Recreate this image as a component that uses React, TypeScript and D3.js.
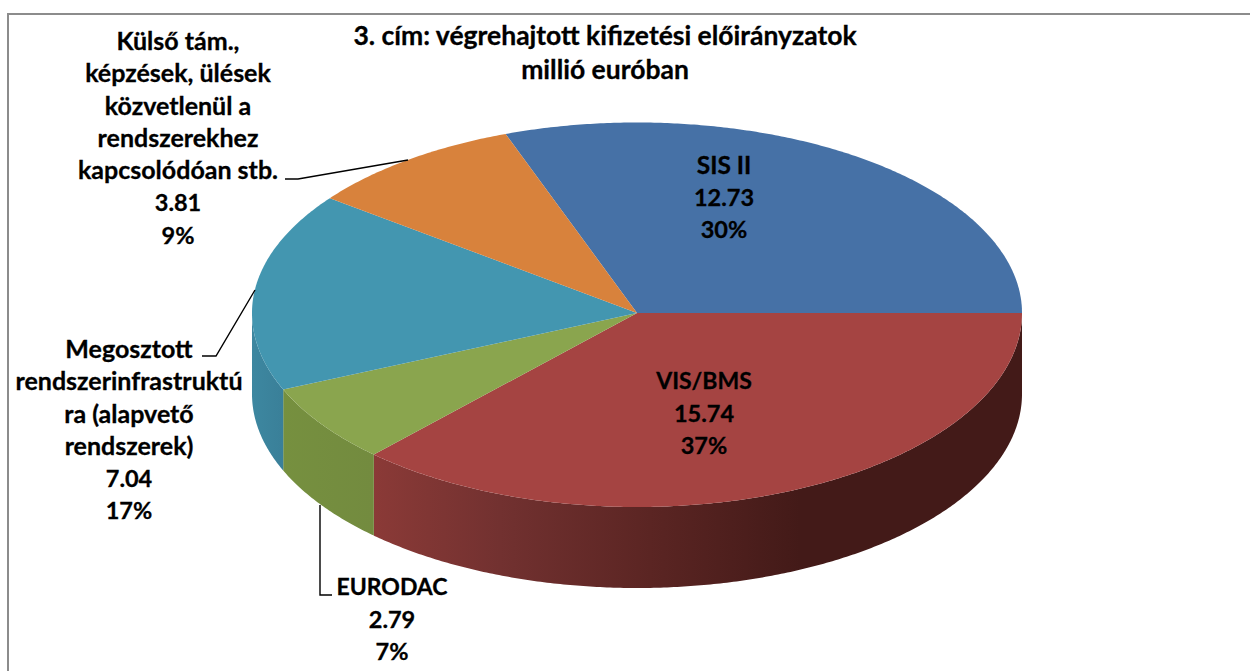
import React from 'react'
import * as d3 from 'd3'

const width = 1250
const height = 671

const titleLines = ['3. cím: végrehajtott kifizetési előirányzatok', 'millió euróban']
const categories = [
  ['SIS II'],
  ['VIS/BMS'],
  ['EURODAC'],
  ['Megosztott', 'rendszerinfrastruktú', 'ra (alapvető', 'rendszerek)'],
  ['Külső tám.,', 'képzések, ülések', 'közvetlenül a', 'rendszerekhez', 'kapcsolódóan stb.'],
]
const values = [12.73, 15.74, 2.79, 7.04, 3.81]
const valueLabels = ['12.73', '15.74', '2.79', '7.04', '3.81']
const percentLabels = ['30%', '37%', '7%', '17%', '9%']
const topColors = ['#4671a6', '#a54442', '#8aa54e', '#4396b0', '#d8823c']

// label placement: centre x and y of the first line, size of the name lines
const labelPos = [
  { x: 724, y: 165, size: 24.5 },
  { x: 704, y: 381, size: 23 },
  { x: 392, y: 587, size: 23 },
  { x: 129, y: 349, size: 25 },
  { x: 178, y: 41, size: 25 },
]
const leaders = [
  null,
  null,
  [[320, 505], [320, 595], [332, 595]],
  [[202, 356], [216, 356], [255, 290]],
  [[285, 179], [298, 179], [408, 160]],
]

const cx = 637
const cy = 313
const rx = 385
const ryBack = 190.5
const ryFront = 194
const depth = 81
const lineStep = 32.4

const rad = (d: number) => (d * Math.PI) / 180

// the original has a slight perspective, angles get squeezed a bit on the far side
const view = (a: number) => a - rad(1.7) * (1 - Math.cos(a - rad(90))) / 2

const rimX = (a: number) => cx + rx * Math.sin(a)
const rimY = (a: number) => cy - (Math.cos(a) > 0 ? ryBack : ryFront) * Math.cos(a)

export default function App() {
  // blue/red border sits exactly on the horizontal
  const startAngle = rad(90) - (2 * Math.PI * values[0]) / d3.sum(values)
  const pie = d3.pie<number>().sort(null).startAngle(startAngle).endAngle(startAngle + 2 * Math.PI)
  const slices = pie(values)

  const rim = d3.line<number>().x(rimX).y(rimY)
  const rimLow = d3.line<number>().x(rimX).y((a) => rimY(a) + depth)

  const samples = (a0: number, a1: number) => d3.range(a0, a1, rad(0.5)).concat([a1])

  const face = (s: d3.PieArcDatum<number>) =>
    `M${cx},${cy}L${(rim(samples(view(s.startAngle), view(s.endAngle))) as string).slice(1)}Z`

  // front wall of a slice, only the part facing the viewer (90deg to 270deg)
  const wall = (s: d3.PieArcDatum<number>) => {
    const a0 = Math.max(view(s.startAngle), rad(90))
    const a1 = Math.min(view(s.endAngle), rad(270))
    if (a1 <= a0) return null
    const steps = samples(a0, a1)
    return `${rim(steps)}L${(rimLow(steps.slice().reverse()) as string).slice(1)}Z`
  }

  return (
    <svg width={width} height={height} style={{ position: 'absolute', left: 0, top: 0 }}
      fontFamily="Lato, 'Open Sans', sans-serif" fontWeight={700} fontSize={25}>
      <defs>
        <linearGradient id="wall-1" gradientUnits="userSpaceOnUse" x1={372} x2={800} y1={0} y2={0}>
          <stop offset="0%" stopColor="#8b3a37" />
          <stop offset="30%" stopColor="#723130" />
          <stop offset="65%" stopColor="#5b2523" />
          <stop offset="100%" stopColor="#431a18" />
        </linearGradient>
        <linearGradient id="wall-2" gradientUnits="userSpaceOnUse" x1={280} x2={372} y1={0} y2={0}>
          <stop offset="0%" stopColor="#76903f" />
          <stop offset="100%" stopColor="#738b3f" />
        </linearGradient>
        <linearGradient id="wall-3" gradientUnits="userSpaceOnUse" x1={252} x2={282} y1={0} y2={0}>
          <stop offset="0%" stopColor="#3d87a0" />
          <stop offset="100%" stopColor="#3a8099" />
        </linearGradient>
      </defs>

      <path d="M8,671V14H1250" fill="none" stroke="#8c8c8c" strokeWidth={2} />

      {slices.map((s, i) => {
        const d = wall(s)
        return d ? <path key={i} d={d} fill={`url(#wall-${i})`} /> : null
      })}

      {slices.map((s, i) => (
        <path key={i} d={face(s)} fill={topColors[i]} />
      ))}

      {leaders.map((pts, i) => pts && (
        <polyline key={i} points={pts.join(' ')} fill="none" stroke="#000" strokeWidth={1.4} />
      ))}

      <g textAnchor="middle" fill="#000" stroke="#000" strokeWidth={0.3}>
        {titleLines.map((t, i) => (
          <text key={i} x={605} y={36 + i * 34} dy="0.35em" fontSize={26.5}>{t}</text>
        ))}
        {categories.map((lines, i) => {
          const all = [...lines, valueLabels[i], percentLabels[i]]
          return all.map((t, j) => (
            <text key={`${i}-${j}`} x={labelPos[i].x} y={labelPos[i].y + j * lineStep} dy="0.35em"
              fontSize={j < lines.length ? labelPos[i].size : 23.5}>{t}</text>
          ))
        })}
      </g>
    </svg>
  )
}
